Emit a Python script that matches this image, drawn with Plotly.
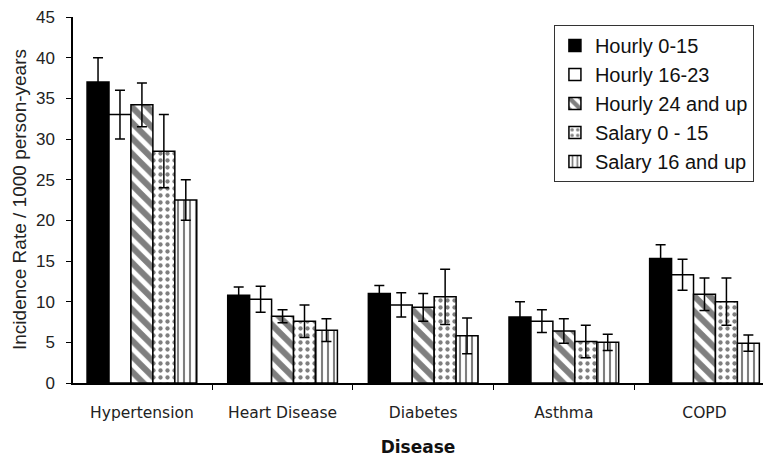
import plotly.graph_objects as go

categories = ["Hypertension", "Heart Disease", "Diabetes", "Asthma", "COPD"]
series_names = ["Hourly 0-15", "Hourly 16-23", "Hourly 24 and up", "Salary 0 - 15", "Salary 16 and up"]

hourly_0_15 = [37.0, 10.8, 11.0, 8.1, 15.3]
hourly_0_15_err = [3.0, 1.0, 1.0, 1.9, 1.7]
hourly_16_23 = [33.0, 10.3, 9.6, 7.6, 13.3]
hourly_16_23_err = [3.0, 1.6, 1.5, 1.4, 1.9]
hourly_24_up = [34.2, 8.2, 9.3, 6.4, 10.9]
hourly_24_up_err = [2.7, 0.8, 1.7, 1.5, 2.0]
salary_0_15 = [28.5, 7.6, 10.6, 5.1, 10.0]
salary_0_15_err = [4.5, 2.0, 3.4, 2.0, 2.9]
salary_16_up = [22.5, 6.5, 5.8, 5.0, 4.9]
salary_16_up_err = [2.5, 1.4, 2.2, 1.0, 1.0]

values = [hourly_0_15, hourly_16_23, hourly_24_up, salary_0_15, salary_16_up]
errors = [hourly_0_15_err, hourly_16_23_err, hourly_24_up_err, salary_0_15_err, salary_16_up_err]

styles = [
    dict(color="black", pattern=None),
    dict(color="white", pattern=None),
    dict(color="white", pattern=dict(shape="\\", fgcolor="black", bgcolor="white", size=11, solidity=0.55)),
    dict(color="white", pattern=dict(shape=".", fgcolor="black", bgcolor="white", size=7, solidity=0.3)),
    dict(color="white", pattern=dict(shape="|", fgcolor="black", bgcolor="white", size=6, solidity=0.35)),
]

fig = go.Figure()
for name, vals, errs, st in zip(series_names, values, errors, styles):
    marker = dict(color=st["color"], line=dict(color="black", width=1.5))
    if st["pattern"]:
        marker["pattern"] = st["pattern"]
    fig.add_trace(go.Bar(
        name=name, x=categories, y=vals, marker=marker,
        error_y=dict(type="data", array=errs, visible=True, color="black", thickness=1.5, width=5),
    ))

W, H = 763, 458
L, R, T, B = 73, 0, 17, 75
plot_w = W - L - R

fig.update_layout(
    width=W, height=H,
    margin=dict(l=L, r=R, t=T, b=B),
    paper_bgcolor="white", plot_bgcolor="white",
    barmode="group", bargap=0.22, bargroupgap=0,
    font=dict(family="Liberation Sans, Arial, sans-serif", color="#222"),
    legend=dict(
        x=0.697, y=0.978, xanchor="left", yanchor="top",
        bgcolor="white", bordercolor="#333", borderwidth=1,
        font=dict(size=20, family="Liberation Sans, Arial, sans-serif", color="#111"),
        traceorder="normal",
    ),
    xaxis=dict(
        range=[-0.49, 4.416], automargin=False,
        showline=True, linecolor="black", linewidth=1.5,
        ticks="outside", tickson="boundaries", ticklen=5, tickcolor="black",
        tickfont=dict(size=15.5, family="DejaVu Sans, sans-serif", color="#222"),
        ticklabelstandoff=15,
        title=dict(text="Disease", font=dict(size=17, family="DejaVu Sans, sans-serif", color="#111", weight="bold"), standoff=20),
    ),
    yaxis=dict(
        range=[0, 45], dtick=5, automargin=False,
        showline=True, linecolor="black", linewidth=1.5,
        ticks="outside", ticklen=5, tickcolor="black",
        showgrid=False, zeroline=False,
        tickfont=dict(size=17, color="#222"),
        ticklabelstandoff=8, ticklabeloverflow="allow",
    ),
    annotations=[dict(
        text="Incidence Rate / 1000 person-years",
        xref="paper", yref="paper", x=-(L - 19) / plot_w, y=0.5,
        xanchor="center", yanchor="middle", textangle=-90, showarrow=False,
        font=dict(size=19, color="#222"),
    )],
)

fig.write_html("out.html", config={"displayModeBar": False},
               post_script="document.body.style.margin='0';")
